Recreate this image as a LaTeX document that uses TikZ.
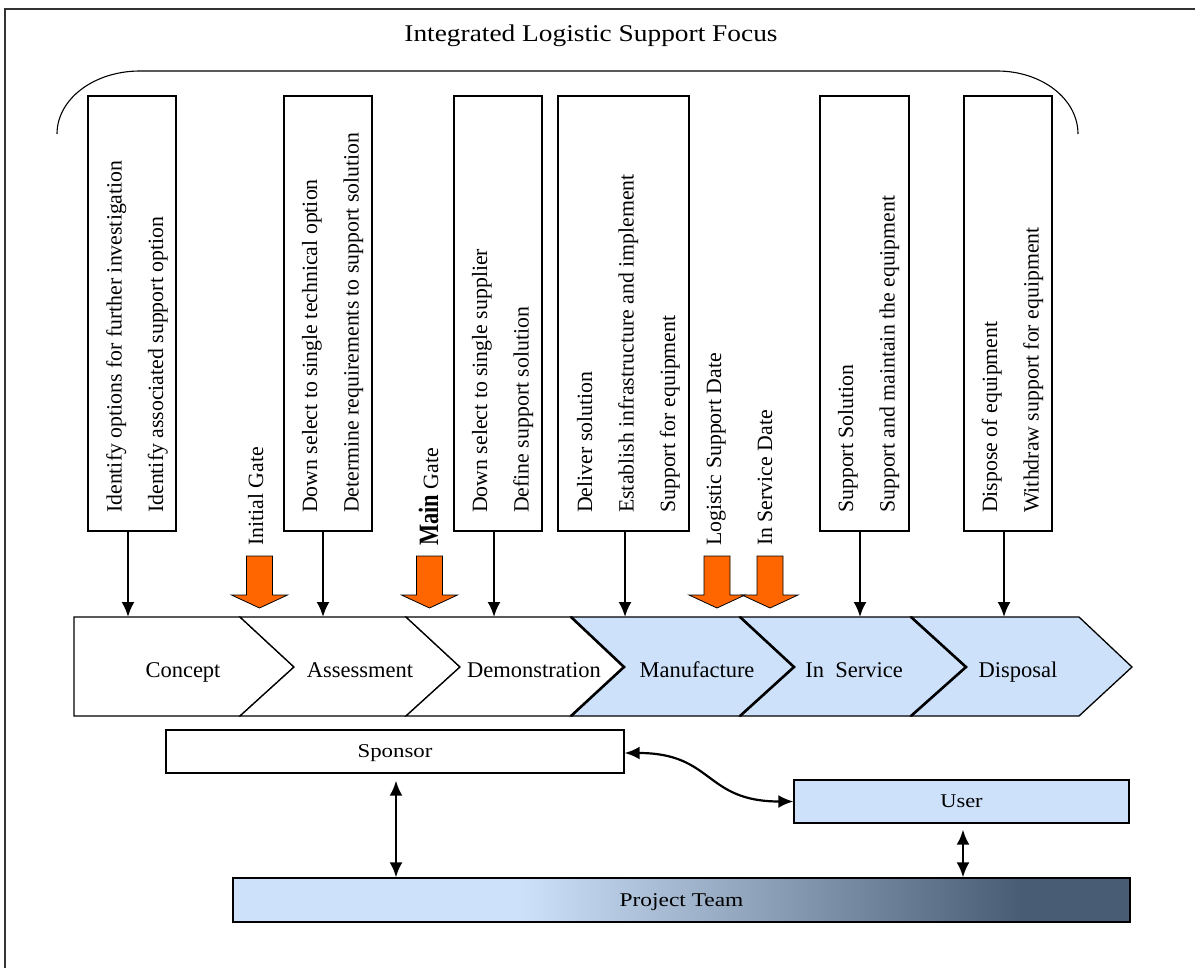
\documentclass[tikz,border=0pt]{standalone}
\usepackage{fontspec}
\setmainfont{Liberation Serif}
\usepackage{graphicx}
\usetikzlibrary{arrows.meta}
\definecolor{lblue}{RGB}{205,225,250}
\definecolor{dslate}{RGB}{72,92,115}
\definecolor{orng}{RGB}{255,102,0}
\pgfdeclarehorizontalshading{ptshade}{100bp}{color(0bp)=(lblue); color(25bp)=(lblue); color(41bp)=(lblue); color(69bp)=(dslate); color(75bp)=(dslate); color(100bp)=(dslate)}
\newcommand{\hstretch}[2]{\scalebox{#1}[1]{#2}}
\tikzset{
  topbox/.style={draw, line width=1.4pt, inner sep=0pt, minimum width=#1, minimum height=435pt},
  boxtext/.style={rotate=90, anchor=base west, align=left, inner sep=0pt, font=\fontsize{21.8}{41.5}\selectfont},
  gatetext/.style={rotate=90, anchor=base west, inner sep=0pt, font=\fontsize{21.8}{26}\selectfont},
  phase/.style={anchor=base, inner sep=0pt, font=\fontsize{22.5}{27}\selectfont},
  chevw/.style={draw, line width=1.3pt, fill=white, line join=miter},
  chevb/.style={draw, line width=1.3pt, fill=lblue, line join=miter},
  notch/.style={line width=2.6pt, line join=miter},
  conn/.style={line width=2.2pt, -{Latex[length=15pt,width=13pt]}},
  dconn/.style={line width=2.2pt, {Latex[length=15pt,width=13pt]}-{Latex[length=15pt,width=13pt]}},
  gatearrow/.style={draw=black, line width=0.8pt, fill=orng},
  lowbox/.style={draw, line width=1.4pt, inner sep=0pt, font=\fontsize{19.5}{23}\selectfont}
}
\begin{document}
\begin{tikzpicture}[x=1pt,y=-1pt]
\useasboundingbox (0,0) rectangle (1195,968);
% frame
\draw[line width=1.2pt, black!80] (5,968) -- (5,9) -- (1195,9);
% title
\node[anchor=base, inner sep=0pt, font=\fontsize{24}{28}\selectfont] (title) at (591,42) {\hstretch{1.14}{Integrated Logistic Support Focus}};
% brace
\draw[line width=1.1pt] (57,134) .. controls (57,99) and (94,71) .. (140,71) -- (997,71) .. controls (1042,71) and (1078,99) .. (1078,134);
% top boxes
\node[topbox=88pt] (b1) at (132,313.5) {};
\node[topbox=88pt] (b2) at (328,313.5) {};
\node[topbox=88pt] (b3) at (498,313.5) {};
\node[topbox=131pt] (b4) at (623.5,313.5) {};
\node[topbox=89pt] (b5) at (864.5,313.5) {};
\node[topbox=88pt] (b6) at (1008,313.5) {};
% (anchor base = baseline of the last line)
\node[boxtext] (t1) at (163,513) {Identify options for further investigation\\Identify associated support option};
\node[boxtext] (t2) at (358.5,513) {Down select to single technical option\\Determine requirements to support solution};
\node[boxtext] (t3) at (528.5,513) {Down select to single supplier\\Define support solution};
\node[boxtext] (t4) at (675,513) {Deliver solution\\Establish infrastructure and implement\\Support for equipment};
\node[boxtext] (t5) at (894.5,513) {Support Solution\\Support and maintain the equipment};
\node[boxtext] (t6) at (1038.5,513) {Dispose of equipment\\Withdraw support for equipment};
% gate labels
\node[gatetext] (g1) at (263,546) {Initial Gate};
\node[gatetext] (g2) at (438,546) {\hstretch{0.8}{\fontsize{28}{28}\selectfont\bfseries Main} Gate};
\node[gatetext] (g3) at (721,546) {Logistic Support Date};
\node[gatetext] (g4) at (772,546) {In Service Date};
% orange gate arrows
\foreach \cx in {259.5,429.5,717,770}{
  \path[gatearrow] (\cx-13,556) -- (\cx+13,556) -- (\cx+13,595) -- (\cx+28,595) -- (\cx,608) -- (\cx-28,595) -- (\cx-13,595) -- cycle;
}
% chevrons
\path[chevw] (74,617) -- (240,617) -- (294,667) -- (240,716) -- (74,716) -- cycle;
\path[chevw] (240,617) -- (406,617) -- (460,667) -- (406,716) -- (240,716) -- (294,667) -- cycle;
\path[chevw] (406,617) -- (571,617) -- (624,667) -- (571,716) -- (406,716) -- (460,667) -- cycle;
\path[chevb] (571,617) -- (740,617) -- (794,667) -- (740,716) -- (571,716) -- (624,667) -- cycle;
\path[chevb] (740,617) -- (911,617) -- (966,667) -- (911,716) -- (740,716) -- (794,667) -- cycle;
\path[chevb] (911,617) -- (1079,617) -- (1132,667) -- (1079,716) -- (911,716) -- (966,667) -- cycle;
\draw[notch] (571,617) -- (624,667) -- (571,716);
\draw[notch] (740,617) -- (794,667) -- (740,716);
\draw[notch] (911,617) -- (966,667) -- (911,716);
\node[phase] (p1) at (183,677) {Concept};
\node[phase] (p2) at (360,677) {Assessment};
\node[phase] (p3) at (534,677) {Demonstration};
\node[phase] (p4) at (697,677) {Manufacture};
\node[phase] (p5) at (854,677) {In\ \ Service};
\node[phase] (p6) at (1018,677) {Disposal};
% arrow targets on chevron top
\coordinate (c1) at (128,617);
\coordinate (c2) at (323,617);
\coordinate (c3) at (494,617);
\coordinate (c4) at (625,617);
\coordinate (c5) at (860,617);
\coordinate (c6) at (1004,617);
\draw[conn] (b1.south -| c1) -- (c1);
\draw[conn] (b2.south -| c2) -- (c2);
\draw[conn] (b3.south -| c3) -- (c3);
\draw[conn] (b4.south -| c4) -- (c4);
\draw[conn] (b5.south -| c5) -- (c5);
\draw[conn] (b6.south -| c6) -- (c6);
% lower boxes
\node[lowbox, fill=white, minimum width=458pt, minimum height=43pt, text depth=0pt] (sp) at (395,751.5) {\hstretch{1.17}{Sponsor}};
\node[lowbox, fill=lblue, minimum width=335pt, minimum height=43pt, text depth=0pt] (us) at (961.5,801.5) {\hstretch{1.15}{User}};
\node[lowbox, shading=ptshade, minimum width=897pt, minimum height=44pt, text depth=0pt] (pt) at (681.5,900) {\hstretch{1.2}{Project Team}};
\coordinate (a1) at (396,0);
\coordinate (a2) at (963,0);
\draw[dconn, shorten <=7pt] (sp.south -| a1) -- (pt.north -| a1);
\draw[dconn, shorten <=6pt] (us.south -| a2) -- (pt.north -| a2);
\draw[dconn] ([yshift=-1.5pt]sp.east) to[out=0, in=180, looseness=1.3] (us.west);
\end{tikzpicture}
\end{document}
